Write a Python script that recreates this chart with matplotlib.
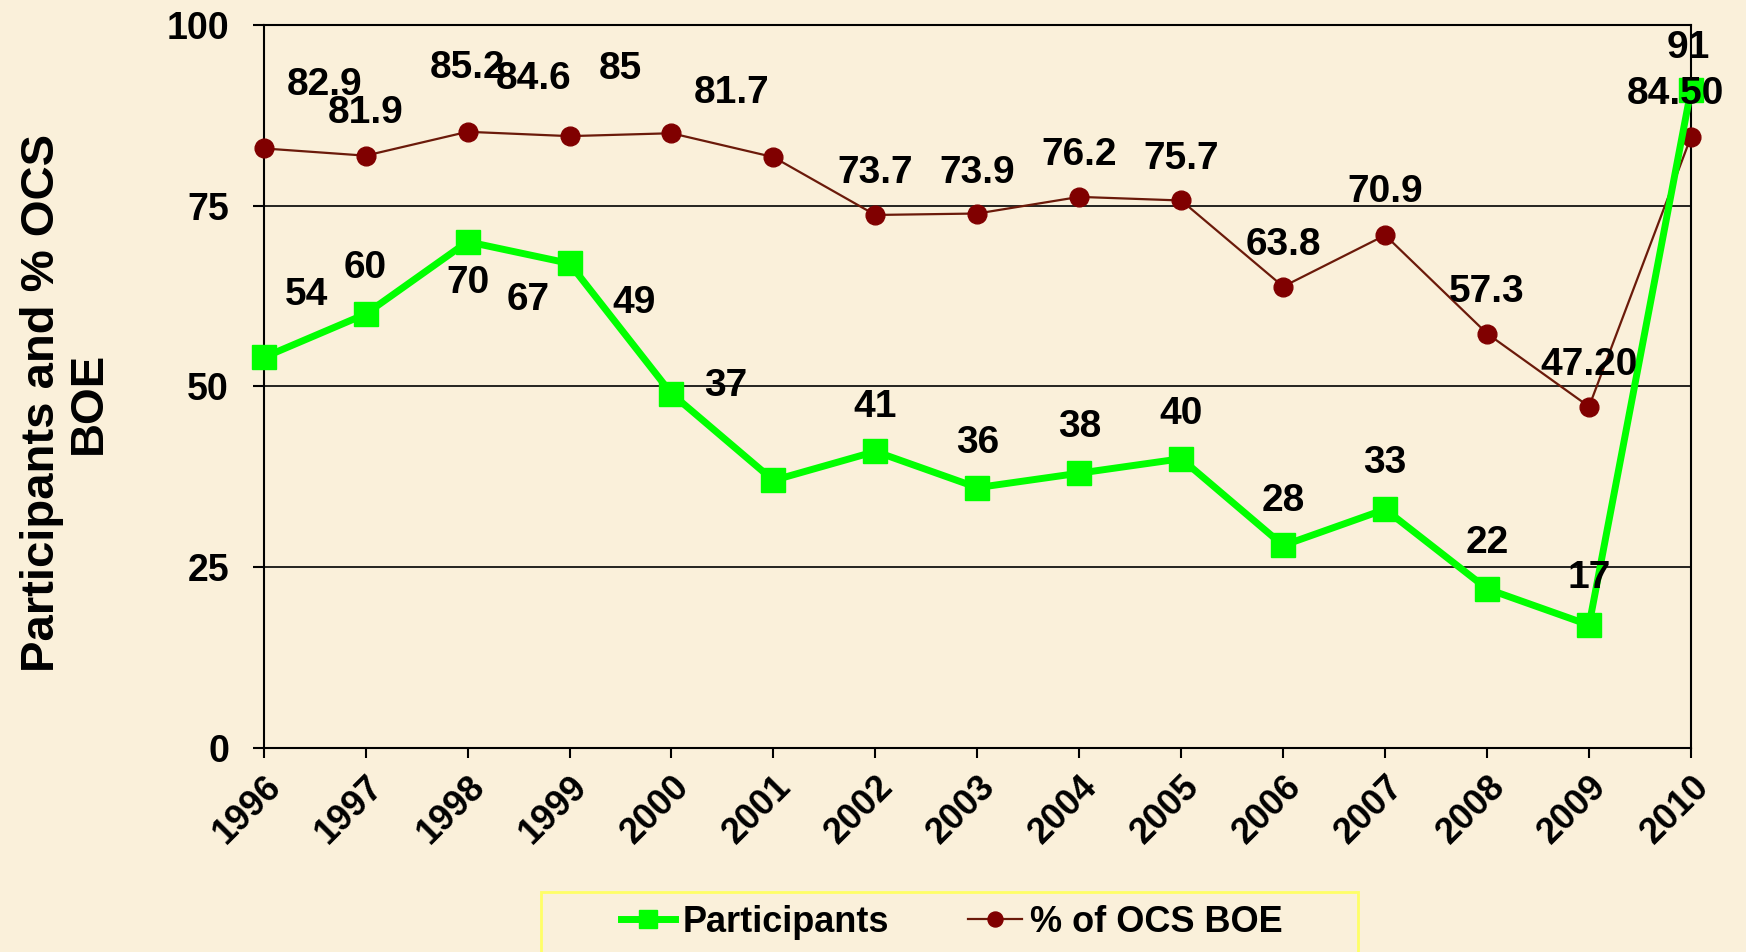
import numpy as np
import matplotlib
matplotlib.use('Agg')
import matplotlib.pyplot as plt
from matplotlib.patches import Rectangle

years = [1996, 1997, 1998, 1999, 2000, 2001, 2002, 2003, 2004, 2005,
         2006, 2007, 2008, 2009, 2010]
participants = [54, 60, 70, 67, 49, 37, 41, 36, 38, 40, 28, 33, 22, 17, 91]
ocs_boe = [82.9, 81.9, 85.2, 84.6, 85, 81.7, 73.7, 73.9, 76.2, 75.7,
           63.8, 70.9, 57.3, 47.20, 84.50]
ocs_labels = ['82.9', '81.9', '85.2', '84.6', '85', '81.7', '73.7', '73.9',
              '76.2', '75.7', '63.8', '70.9', '57.3', '47.20', '84.50']

# label offsets in points (as placed in the original chart)
part_off = [(31, 45), (0, 33), (0, -30), (-30, -26), (-27, 65), (-34, 68),
            (0, 32), (0, 32), (0, 33), (0, 32), (0, 32), (0, 33), (0, 33),
            (0, 34), (-2, 30)]
ocs_off = [(44, 46), (0, 31), (0, 46), (-26, 41), (-37, 46), (-30, 46),
           (0, 30), (0, 29), (0, 30), (0, 30), (0, 30), (0, 31), (0, 30),
           (0, 30), (-11, 31)]

bg = '#FAF0DA'
plt.rcParams['font.family'] = ['Liberation Sans', 'DejaVu Sans']
plt.rcParams['font.weight'] = 'bold'

fig = plt.figure(figsize=(17.46, 9.52), dpi=100, facecolor=bg)
ax = fig.add_axes([0.151, 0.2143, 0.8175, 0.7597])
ax.set_facecolor(bg)

ax.plot(years, ocs_boe, color='#6B1A0A', lw=1.6, marker='o', ms=13.5,
        mfc='#800000', mec='#800000', zorder=3, label='% of OCS BOE', clip_on=False)
ax.plot(years, participants, color='#00FF00', lw=5, marker='s', ms=17,
        mfc='#00FF00', mec='#00FF00', zorder=4, label='Participants', clip_on=False)

for x, y, off in zip(years, participants, part_off):
    ax.annotate(str(y), (x, y), xytext=off, textcoords='offset points',
                ha='center', va='center', fontsize=28, fontweight='bold', zorder=5)
for x, y, t, off in zip(years, ocs_boe, ocs_labels, ocs_off):
    ax.annotate(t, (x, y), xytext=off, textcoords='offset points',
                ha='center', va='center', fontsize=28, fontweight='bold', zorder=5)

ax.set_xlim(1996, 2010)
ax.set_ylim(0, 100)
ax.set_yticks([0, 25, 50, 75, 100])
ax.set_xticks(years)
ax.set_xticklabels([str(y) for y in years], rotation=45, ha='right',
                   rotation_mode='anchor', fontsize=26, fontweight='bold')
ax.tick_params(axis='y', labelsize=27, length=8, width=1.5, pad=17)
ax.tick_params(axis='x', length=7, width=1.5, pad=8)
ax.yaxis.grid(True, color='black', lw=1.2)
ax.set_axisbelow(True)
for s in ax.spines.values():
    s.set_linewidth(1.5)

ax.set_ylabel('Participants and % OCS\nBOE', fontsize=34, fontweight='bold',
              linespacing=1.1)
ax.yaxis.set_label_coords(-0.107, 0.477)

# legend box (yellow border)
fig.patches.append(Rectangle((541 / 1746, -0.05), (1358 - 541) / 1746,
                             (952 - 892) / 952 + 0.05, transform=fig.transFigure,
                             fill=False, edgecolor='#FFFF66', lw=2))
h, l = ax.get_legend_handles_labels()
fig.legend(h[::-1], l[::-1], loc='center', bbox_to_anchor=(0.545, 0.0315),
           ncol=2, frameon=False, fontsize=26, handlelength=1.5,
           handletextpad=0.2, columnspacing=2.2, markerscale=0.8)

fig.savefig('out.png', dpi=100, facecolor=bg)
